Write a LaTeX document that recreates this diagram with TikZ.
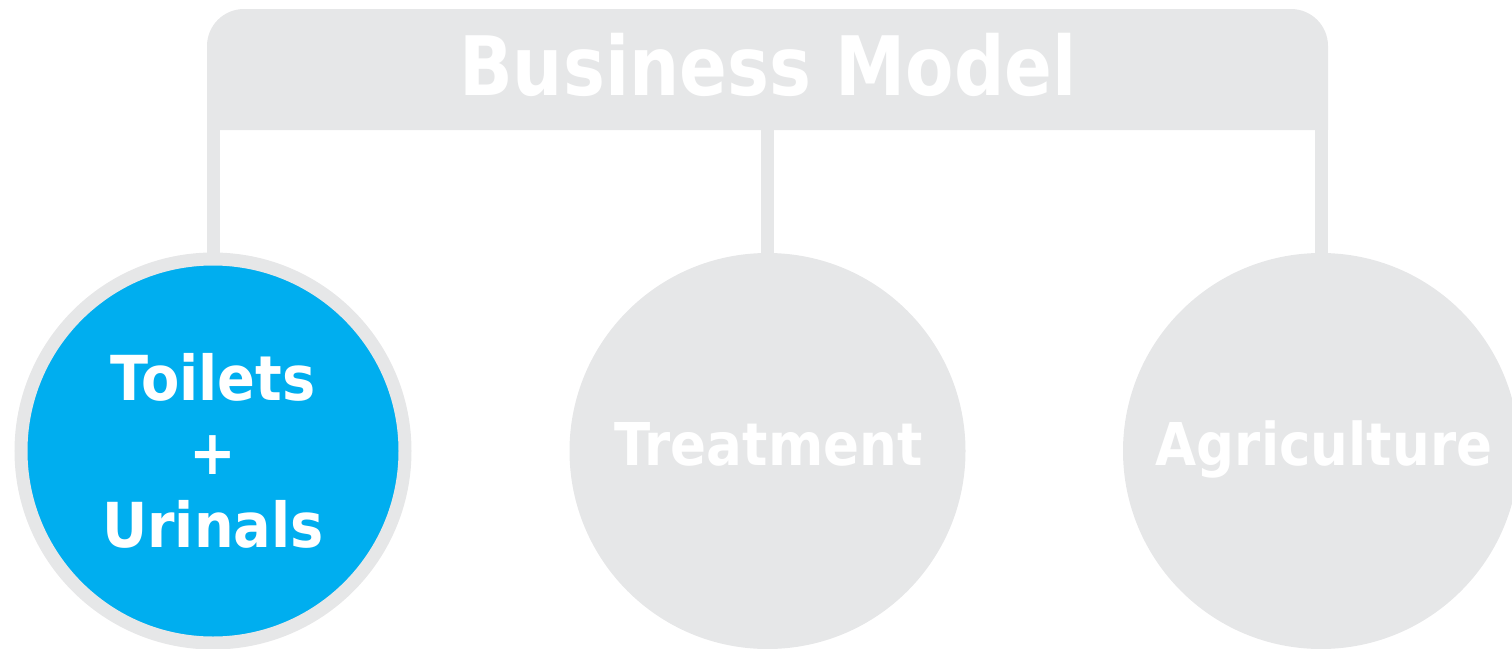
\documentclass[tikz,border=0pt]{standalone}
\usepackage{fontspec}
\newfontfamily\df{DejaVu Sans}[FakeStretch=0.86]
\newfontfamily\dfc{DejaVu Sans}[FakeStretch=0.9]
\definecolor{lgray}{HTML}{E6E7E8}
\definecolor{sblue}{HTML}{00AEEF}
\begin{document}
\begin{tikzpicture}[x=1pt,y=-1pt,
  conn/.style={draw=lgray, line width=13pt},
  bubble/.style={circle, fill=lgray, minimum size=396pt, inner sep=0pt, outer sep=0pt},
  bubblelbl/.style={anchor=base, text=white, inner sep=0pt, font=\dfc\bfseries\fontsize{59}{70}\selectfont},
  active/.style={circle, fill=sblue, draw=lgray, line width=13pt, minimum size=384pt,
     inner sep=0pt, outer sep=6.5pt, text=white, align=center,
     font=\dfc\bfseries\fontsize{62}{73.5}\selectfont}]
\useasboundingbox (0,0) rectangle (1512,648);
% banner
\node[minimum width=1121pt, minimum height=121pt, inner sep=0pt, outer sep=0pt] (banner) at (767.5,69.5) {};
\fill[lgray] (banner.south west) [rounded corners=37pt] -- (banner.north west) -- (banner.north east) [sharp corners] -- (banner.south east) -- cycle;
\node[anchor=base, text=white, inner sep=0pt, font=\df\bfseries\fontsize{82}{90}\selectfont] (title) at (768,95) {Business Model};
% circles
\node[active] (toilets) at (213,451) {Toilets\\+\\Urinals};
\node[bubble] (treat) at (767.5,451) {};
\node[bubble] (agri) at (1321,451) {};
\node[bubblelbl] (treatlbl) at (768.5,465) {Treatment};
\node[bubblelbl] (agrilbl) at (1324,465) {Agriculture};
% connectors
\draw[conn] (banner.south west -| toilets.north) ++(0.5,0) coordinate (c1) (c1) -- (toilets.north -| c1);
\draw[conn] (banner.south -| treat.north) -- (treat.north);
\draw[conn] (banner.south -| agri.north) -- (agri.north);
\end{tikzpicture}
\end{document}
